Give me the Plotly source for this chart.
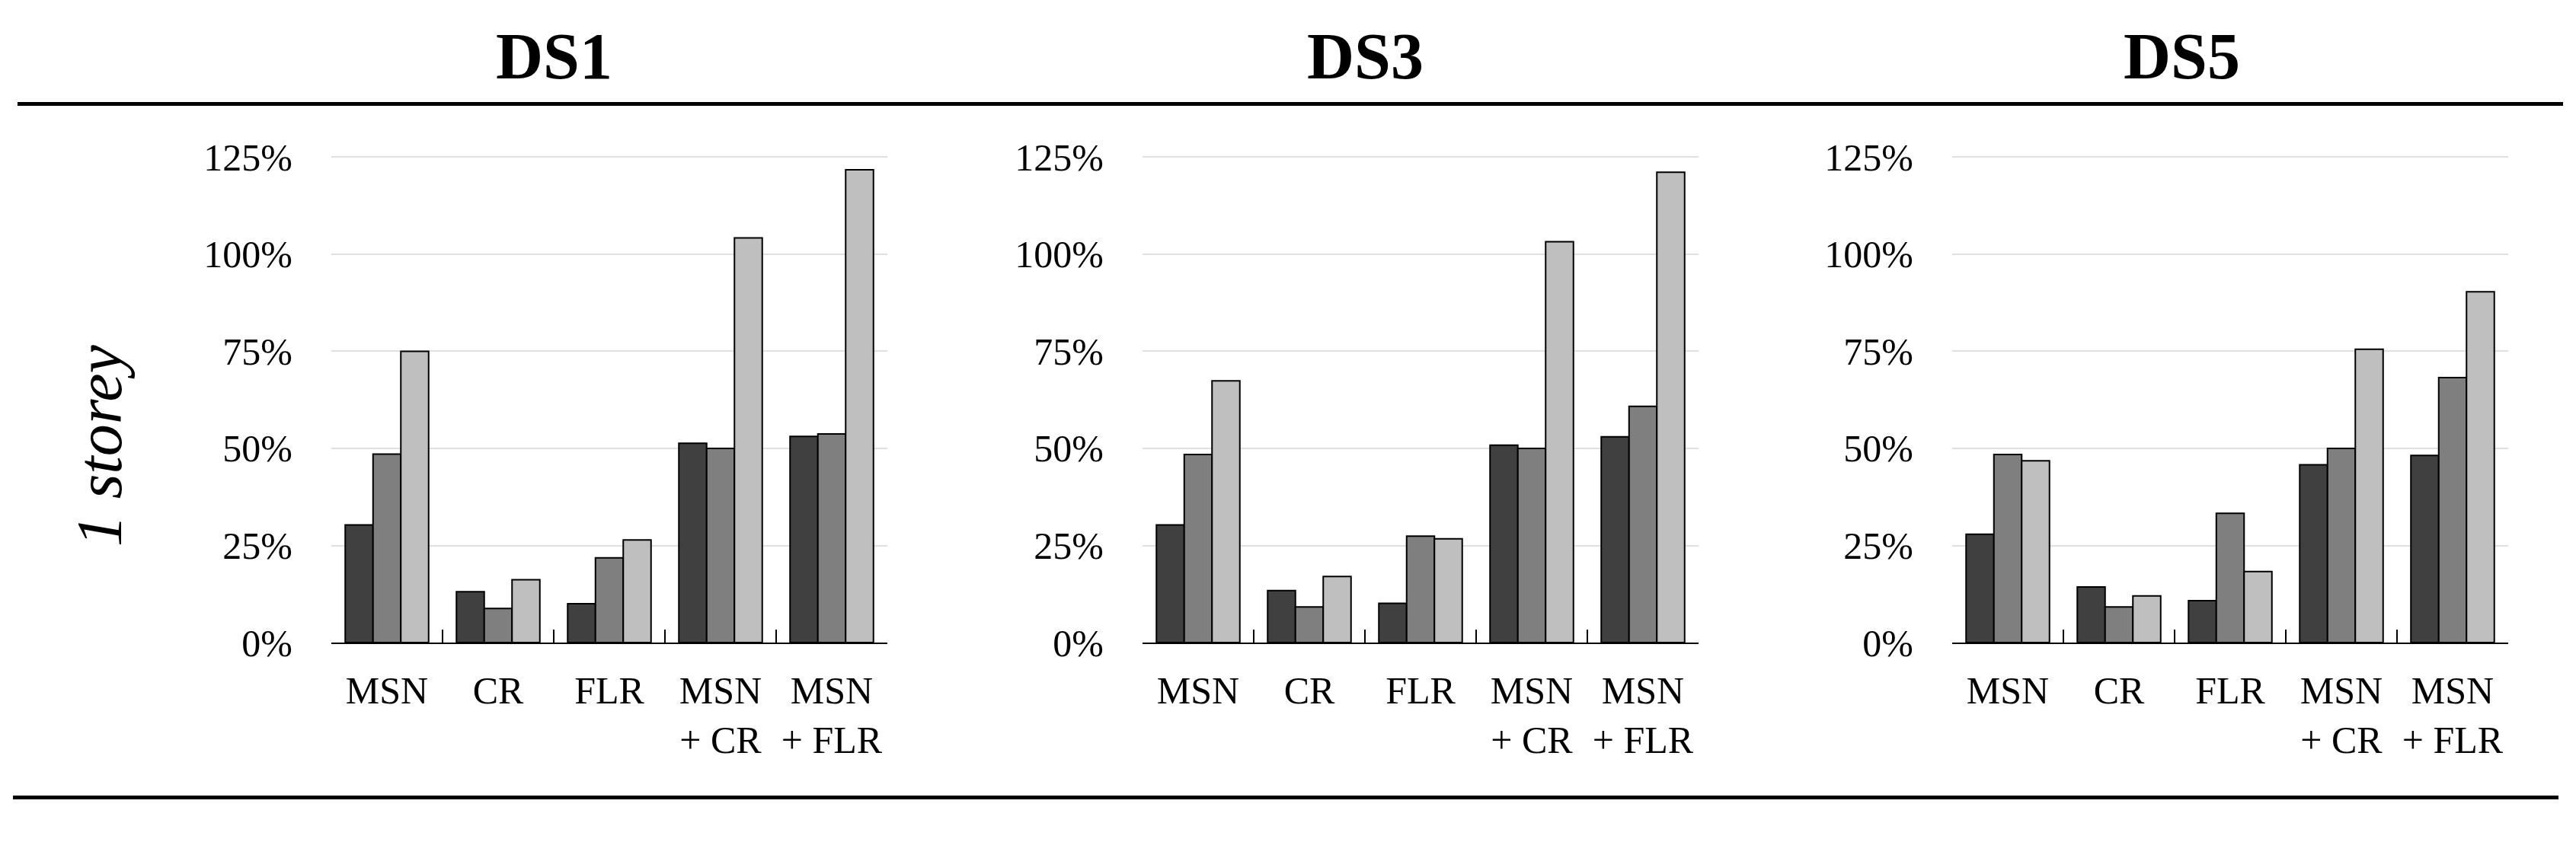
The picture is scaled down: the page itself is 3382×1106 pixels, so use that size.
import plotly.graph_objects as go

W, H = 3382, 1106

categories = ["MSN", "CR", "FLR", "MSN<br>+ CR", "MSN<br>+ FLR"]
panel_titles = ["DS1", "DS3", "DS5"]
row_label = "1 storey"
y_tickvals = [0, 25, 50, 75, 100, 125]
y_ticktext = ["0%", "25%", "50%", "75%", "100%", "125%"]

# values in percent, per panel, three shaded series
ds1_dark = [30.3, 13.1, 10.0, 51.3, 53.1]
ds1_mid = [48.5, 8.8, 21.8, 50.0, 53.7]
ds1_light = [75.0, 16.2, 26.4, 104.2, 121.7]

ds3_dark = [30.3, 13.4, 10.1, 50.8, 53.0]
ds3_mid = [48.4, 9.2, 27.4, 50.0, 60.8]
ds3_light = [67.4, 17.0, 26.7, 103.2, 121.1]

ds5_dark = [27.9, 14.3, 10.8, 45.8, 48.2]
ds5_mid = [48.4, 9.2, 33.3, 50.0, 68.2]
ds5_light = [46.8, 12.0, 18.3, 75.5, 90.3]

series_names = ["Series A", "Series B", "Series C"]
series_colors = ["#404040", "#7f7f7f", "#bfbfbf"]

panels = [
    [ds1_dark, ds1_mid, ds1_light],
    [ds3_dark, ds3_mid, ds3_light],
    [ds5_dark, ds5_mid, ds5_light],
]

FONT = "Liberation Serif"

# layout geometry (pixels)
px_left = [435, 1500, 2563]
px_width = 730
y0_px = 861          # 0 % baseline
per25_px = 133.6     # pixels per 25 %
y_top_val = 126
y_top_px = y0_px - y_top_val / 25 * per25_px

fig = go.Figure()
layout_axes = {}
for i, (vals, title) in enumerate(zip(panels, panel_titles)):
    xa = "x" if i == 0 else f"x{i+1}"
    ya = "y" if i == 0 else f"y{i+1}"
    for v, name, col in zip(vals, series_names, series_colors):
        fig.add_trace(go.Bar(
            x=categories, y=v, name=name, xaxis=xa, yaxis=ya,
            marker=dict(color=col, line=dict(color="#000000", width=2)),
            showlegend=False,
        ))
    xkey = "xaxis" if i == 0 else f"xaxis{i+1}"
    ykey = "yaxis" if i == 0 else f"yaxis{i+1}"
    layout_axes[xkey] = dict(
        domain=[px_left[i] / W, (px_left[i] + px_width) / W],
        anchor=ya,
        showline=True, linecolor="#000000", linewidth=2,
        ticks="inside", tickson="boundaries", ticklen=17, tickwidth=2,
        tickcolor="#000000",
        showgrid=False,
        tickangle=0,
        tickfont=dict(family=FONT, size=50, color="#000000"),
        ticklabelstandoff=18,
        fixedrange=True,
    )
    layout_axes[ykey] = dict(
        domain=[1 - y0_px / H, 1 - y_top_px / H],
        anchor=xa,
        range=[0, y_top_val],
        tickvals=y_tickvals, ticktext=y_ticktext,
        showgrid=True, gridcolor="#e0e0e0", gridwidth=2,
        zeroline=False, showline=False, ticks="",
        tickfont=dict(family=FONT, size=50, color="#000000"),
        ticklabelstandoff=50,
        fixedrange=True,
    )

title_x_px = [727, 1792, 2864]
annotations = []
for t, xp in zip(panel_titles, title_x_px):
    annotations.append(dict(
        text=t, x=xp / W, y=1 - 54 / H, xref="paper", yref="paper",
        xanchor="center", yanchor="middle", showarrow=False,
        font=dict(family=FONT, size=86, color="#000000", weight="bold"),
    ))
annotations.append(dict(
    text=row_label, x=130 / W, y=1 - 590 / H, xref="paper", yref="paper",
    xanchor="center", yanchor="middle", showarrow=False, textangle=-90,
    font=dict(family=FONT, size=84, color="#000000", style="italic"),
))

shapes = [
    dict(type="line", xref="paper", yref="paper", x0=23 / W, x1=3365 / W,
         y0=1 - 120 / H, y1=1 - 120 / H, line=dict(color="#000000", width=5)),
    dict(type="line", xref="paper", yref="paper", x0=17 / W, x1=3359 / W,
         y0=1 - 1074 / H, y1=1 - 1074 / H, line=dict(color="#000000", width=5)),
]

fig.update_layout(
    width=W, height=H, autosize=False,
    margin=dict(l=0, r=0, t=0, b=0),
    paper_bgcolor="#ffffff", plot_bgcolor="#ffffff",
    barmode="group", bargap=0.25, bargroupgap=0,
    annotations=annotations, shapes=shapes,
    **layout_axes,
)

# pin the figure to the page corner so the page is exactly the figure size
page_fix = (
    "document.documentElement.style.margin='0';"
    "document.body.style.margin='0';"
    "document.body.style.overflow='hidden';"
    "var gd=document.getElementById('{plot_id}');"
    "gd.style.position='absolute';gd.style.left='0px';gd.style.top='0px';"
)

fig.write_html("out.html", post_script=page_fix,
               config={"displayModeBar": False, "staticPlot": True})
